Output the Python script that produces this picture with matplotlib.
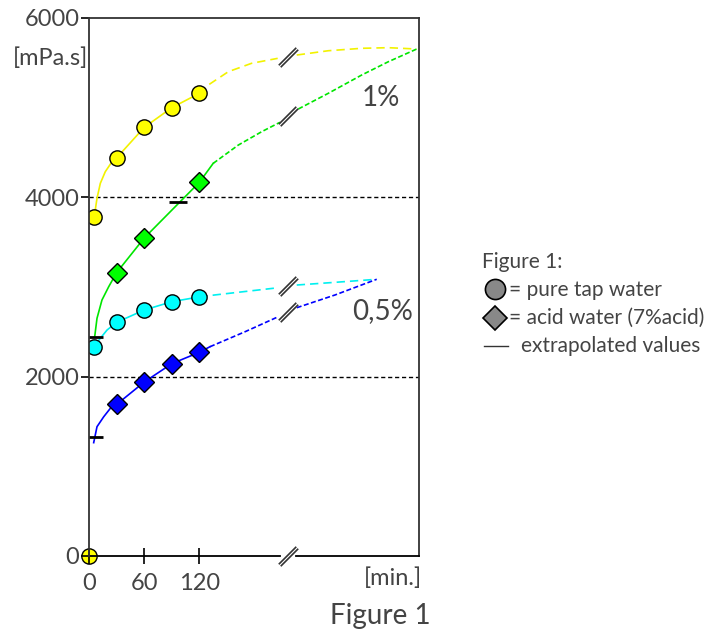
import numpy as np
import matplotlib
matplotlib.use("Agg")
import matplotlib.pyplot as plt
from matplotlib.path import Path

plt.rcParams['font.family'] = ['Lato', 'DejaVu Sans']
plt.rcParams['font.weight'] = 'normal'

# viscosity [mPa.s] vs time [min.]
# 1% solution, pure tap water (circles)
tap1_t = [5, 30, 60, 90, 120]
tap1_v = [3780, 4440, 4780, 5000, 5160]
tap1_curve_t = [5, 6.8, 8.7, 12.3, 17.7, 25, 30, 60, 90, 120]
tap1_curve_v = [3780, 3859, 3989, 4156, 4286, 4397, 4440, 4780, 5000, 5160]
tap1_ext1_t = [120, 129.7, 151.4, 176.8, 205.1]
tap1_ext1_v = [5160, 5253, 5401, 5495, 5550]
tap1_ext2_t = [225.8, 260.1, 296.4, 325.3, 356.2]
tap1_ext2_v = [5587, 5635, 5662, 5669, 5654]

# 1% solution, acid water (diamonds)
acid1_t = [30, 60, 120]
acid1_v = [3160, 3546, 4168]
acid1_curve_t = [6.2, 8.7, 14.1, 21.4, 30, 60, 120, 135]
acid1_curve_v = [2446, 2651, 2855, 3003, 3160, 3546, 4168, 4379]
acid1_ext1_t = [135, 162.3, 187.7, 207.6]
acid1_ext1_v = [4379, 4583, 4732, 4837]
acid1_ext2_t = [227.5, 260.1, 296.4, 325.3, 356.2]
acid1_ext2_v = [4985, 5160, 5364, 5512, 5654]

# 0,5% solution, pure tap water
tap05_t = [5, 30, 60, 90, 120]
tap05_v = [2334, 2606, 2743, 2836, 2890]
tap05_curve_t = [5, 12.3, 19.6, 30, 60, 90, 120]
tap05_curve_v = [2334, 2428, 2520, 2606, 2743, 2836, 2890]
tap05_ext1_t = [120, 129.7, 205.8]
tap05_ext1_v = [2890, 2903, 2992]
tap05_ext2_t = [225.8, 267.4, 312.7]
tap05_ext2_v = [3022, 3052, 3086]

# 0,5% solution, acid water
acid05_t = [30, 60, 90, 120]
acid05_v = [1690, 1940, 2145, 2272]
acid05_curve_t = [5.1, 8.7, 16, 23.2, 30, 60, 90, 120, 131.5]
acid05_curve_v = [1264, 1442, 1553, 1647, 1690, 1940, 2145, 2272, 2334]
acid05_ext1_t = [131.5, 169.6, 205.8]
acid05_ext1_v = [2334, 2501, 2669]
acid05_ext2_t = [225.8, 267.4, 312.7]
acid05_ext2_v = [2769, 2911, 3086]

# extrapolated values (short black bars)
extrap_t = [5, 5, 97]
extrap_v = [2440, 1330, 3948]

xticks = [0, 60, 120]
yticks = [0, 2000, 4000, 6000]
t_break = 216.3
gap_lo, gap_hi = 207.6, 225.0
xmax = 358.7

W, H = 717, 632
fig = plt.figure(figsize=(W / 100, H / 100), dpi=100)
ax = fig.add_axes([89 / W, 1 - 556 / H, 330 / W, 538 / H])
ax.set_xlim(0, xmax)
ax.set_ylim(0, 6000)

txt = '#444444'
for y in (2000, 4000):
    ax.axhline(y, color='black', lw=1, ls=(0, (3, 2)), zorder=1)

# two parallel strokes used to mark the axis break
brk = Path([(-1.0, -0.8), (0.8, 1.0), (-0.8, -1.0), (1.0, 0.8)],
           [Path.MOVETO, Path.LINETO, Path.MOVETO, Path.LINETO])

series = [
    ('#f2f200', '#ffff00', 'o', tap1_t, tap1_v, tap1_curve_t, tap1_curve_v,
     tap1_ext1_t, tap1_ext1_v, tap1_ext2_t, tap1_ext2_v, (5, 3)),
    ('#00e600', '#00ff00', 'D', acid1_t, acid1_v, acid1_curve_t, acid1_curve_v,
     acid1_ext1_t, acid1_ext1_v, acid1_ext2_t, acid1_ext2_v, (3, 1.5)),
    ('#00f0f0', '#00ffff', 'o', tap05_t, tap05_v, tap05_curve_t, tap05_curve_v,
     tap05_ext1_t, tap05_ext1_v, tap05_ext2_t, tap05_ext2_v, (5, 3)),
    ('#0000ff', '#0000ff', 'D', acid05_t, acid05_v, acid05_curve_t, acid05_curve_v,
     acid05_ext1_t, acid05_ext1_v, acid05_ext2_t, acid05_ext2_v, (3, 1.5)),
]

for col, fc, mk, t, v, ct, cv, e1t, e1v, e2t, e2v, dash in series:
    ax.plot(ct, cv, color=col, lw=1.2, zorder=2)
    ax.plot(e1t, e1v, color=col, lw=1.2, ls=(0, dash), zorder=2)
    ax.plot(e2t, e2v, color=col, lw=1.2, ls=(0, dash), zorder=2)
    ms = 11 if mk == 'o' else 10
    ax.plot(t, v, ls='none', marker=mk, ms=ms, mfc=fc, mec='black',
            mew=1, zorder=4)
    ax.plot([t_break], [(e1v[-1] + e2v[0]) / 2], marker=brk, ms=14,
            mec='#333333', mew=1.2, ls='none', zorder=3)

ax.plot(extrap_t, extrap_v, ls='none', marker='_', ms=13, mew=2,
        color='black', zorder=3)

# starting point at origin
ax.plot([0], [0], marker='o', ms=11, mfc='#ffff00', mec='black', mew=1,
        clip_on=False, zorder=1)

# bottom axis drawn in two pieces around the break
ax.spines['bottom'].set_visible(False)
ax.plot([0, gap_lo], [0, 0], color='black', lw=1.3, clip_on=False, zorder=5)
ax.plot([gap_hi, xmax], [0, 0], color='black', lw=1.3, clip_on=False, zorder=5)
ax.plot([t_break], [0], marker=brk, ms=14, mec='#333333', mew=1.2,
        clip_on=False, zorder=5)

for s in ('left', 'top', 'right'):
    ax.spines[s].set_color('#333333')
    ax.spines[s].set_linewidth(1.3)
ax.spines['left'].set_zorder(5)

ax.set_xticks(xticks)
ax.set_xticklabels([str(x) for x in xticks])
ax.set_yticks(yticks)
ax.set_yticklabels([str(y) for y in yticks])
ax.tick_params(axis='x', direction='inout', length=11, width=1.2,
               labelsize=17, pad=7, colors='black', labelcolor=txt)
ax.tick_params(axis='y', direction='out', length=6, width=1.2,
               labelsize=17, pad=1, colors='black', labelcolor=txt)

# overlay in pixel coordinates for the free text and the key
ov = fig.add_axes([0, 0, 1, 1], zorder=10)
ov.set_xlim(0, W)
ov.set_ylim(H, 0)
ov.axis('off')
ov.patch.set_alpha(0)

ov.text(88, 58, '[mPa.s]', fontsize=17, ha='right', va='center', color=txt)
ov.text(422, 578, '[min.]', fontsize=17, ha='right', va='center', color=txt)
ov.text(431, 616, 'Figure 1', fontsize=20, ha='right', va='center', color=txt)
ov.text(400, 98, '1%', fontsize=20, ha='right', va='center', color=txt)
ov.text(413, 311, '0,5%', fontsize=20, ha='right', va='center', color=txt)

ov.text(482, 262, 'Figure 1:', fontsize=15, ha='left', va='center', color=txt)
ov.plot([495], [289], marker='o', ms=14.5, mfc='#888888', mec='black', mew=1.2)
ov.text(509, 290, '= pure tap water', fontsize=15, ha='left', va='center', color=txt)
ov.plot([495], [318], marker='D', ms=12, mfc='#888888', mec='black', mew=1.2)
ov.text(509, 318, '= acid water (7%acid)', fontsize=15, ha='left', va='center', color=txt)
ov.plot([484, 508], [346, 346], color='#333333', lw=1)
ov.text(521, 346, 'extrapolated values', fontsize=15, ha='left', va='center', color=txt)

fig.savefig('out.png', dpi=100)
